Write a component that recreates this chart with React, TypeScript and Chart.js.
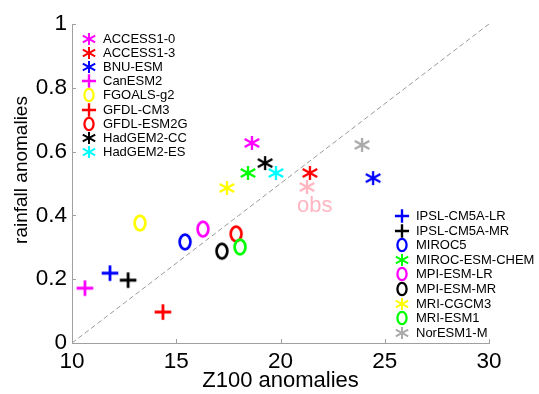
import React, { useEffect, useRef } from 'react';
import { Chart, registerables } from 'chart.js';

Chart.register(...registerables);

// ---- Data ----
const models = [
  'ACCESS1-0', 'ACCESS1-3', 'BNU-ESM', 'CanESM2', 'FGOALS-g2', 'GFDL-CM3', 'GFDL-ESM2G',
  'HadGEM2-CC', 'HadGEM2-ES', 'IPSL-CM5A-LR', 'IPSL-CM5A-MR', 'MIROC5', 'MIROC-ESM-CHEM',
  'MPI-ESM-LR', 'MPI-ESM-MR', 'MRI-CGCM3', 'MRI-ESM1', 'NorESM1-M',
];
const z100Anomalies = [
  18.63, 21.41, 24.44, 10.62, 13.26, 14.36, 17.87,
  19.26, 19.78, 11.82, 12.69, 15.42, 18.44,
  16.28, 17.19, 17.43, 18.06, 23.91,
];
const rainfallAnomalies = [
  0.627, 0.533, 0.517, 0.172, 0.376, 0.097, 0.342,
  0.564, 0.533, 0.219, 0.197, 0.317, 0.533,
  0.357, 0.288, 0.486, 0.301, 0.621,
];
const modelColors = [
  '#ff00ff', '#ff0000', '#0000ff', '#ff00ff', '#ffff00', '#ff0000', '#ff0000',
  '#000000', '#00ffff', '#0000ff', '#000000', '#0000ff', '#00ff00',
  '#ff00ff', '#000000', '#ffff00', '#00ff00', '#aaaaaa',
];
const modelMarkers = [
  'star', 'star', 'star', 'plus', 'circle', 'plus', 'circle',
  'star', 'star', 'plus', 'plus', 'circle', 'star',
  'circle', 'circle', 'star', 'circle', 'star',
];
const obsLabel = 'obs';
const obsZ100 = 21.27;
const obsRainfall = 0.489;
const obsColor = '#ffb6c1';
const refLineX = [10, 30];
const refLineY = [0, 1];
const leftLegendCount = 9;
const xAxisTitle = 'Z100 anomalies';
const yAxisTitle = 'rainfall anomalies';

const FONT = "'Liberation Sans', Arial, Helvetica, sans-serif";
const AXIS_GREY = '#a0a0a0';

function makeMarker(kind: string, color: string, scale = 1): HTMLCanvasElement {
  const size = 20;
  const c = document.createElement('canvas');
  c.width = size;
  c.height = size;
  const ctx = c.getContext('2d')!;
  ctx.translate(size / 2, size / 2);
  ctx.scale(scale, scale);
  ctx.strokeStyle = color;
  ctx.lineCap = 'butt';
  ctx.beginPath();
  if (kind === 'star') {
    ctx.lineWidth = 2.3;
    ctx.moveTo(0, -7);
    ctx.lineTo(0, 7);
    ctx.moveTo(-7.3, -4);
    ctx.lineTo(7.3, 4);
    ctx.moveTo(-7.3, 4);
    ctx.lineTo(7.3, -4);
  } else if (kind === 'plus') {
    ctx.lineWidth = 2.8;
    ctx.moveTo(-8.3, 0);
    ctx.lineTo(8.3, 0);
    ctx.moveTo(0, -7.8);
    ctx.lineTo(0, 7.8);
  } else {
    ctx.lineWidth = 2.7;
    ctx.ellipse(0, 0, 5.4, 7.3, 0, 0, Math.PI * 2);
  }
  ctx.stroke();
  return c;
}

export default function App() {
  const ref = useRef<HTMLCanvasElement | null>(null);

  useEffect(() => {
    document.body.style.margin = '0';
    const canvas = ref.current;
    if (!canvas) return;

    const plotMarkers = models.map((_, i) => makeMarker(modelMarkers[i], modelColors[i], 1));
    const legendMarkers = models.map((_, i) => makeMarker(modelMarkers[i], modelColors[i], 0.85));
    const obsMarker = makeMarker('star', obsColor, 1);

    const datasets: any[] = [
      {
        label: 'reference',
        type: 'line',
        data: refLineX.map((x, i) => ({ x, y: refLineY[i] })),
        borderColor: '#999999',
        borderWidth: 1,
        borderDash: [5, 3],
        pointRadius: 0,
        showLine: true,
        fill: false,
        order: 100,
      },
      ...models.map((m, i) => ({
        label: m,
        data: [{ x: z100Anomalies[i], y: rainfallAnomalies[i] }],
        pointStyle: plotMarkers[i],
        pointRadius: 8,
        showLine: false,
        order: models.length - i + 1,
      })),
      {
        label: obsLabel,
        data: [{ x: obsZ100, y: obsRainfall }],
        pointStyle: obsMarker,
        pointRadius: 8,
        showLine: false,
        order: 0,
      },
    ];

    const customPlugin = {
      id: 'customDecor',
      afterDraw(chart: any) {
        const ctx = chart.ctx;
        const xs = chart.scales.x;
        const ys = chart.scales.y;
        const area = chart.chartArea;
        ctx.save();
        // inward ticks
        ctx.strokeStyle = AXIS_GREY;
        ctx.lineWidth = 1;
        ctx.beginPath();
        xs.ticks.forEach((t: any) => {
          const px = Math.round(xs.getPixelForValue(t.value)) + 0.5;
          ctx.moveTo(px, area.bottom);
          ctx.lineTo(px, area.bottom - 4);
        });
        ys.ticks.forEach((t: any) => {
          const py = Math.round(ys.getPixelForValue(t.value)) + 0.5;
          ctx.moveTo(area.left, py);
          ctx.lineTo(area.left + 4, py);
        });
        ctx.stroke();

        // y-axis title
        ctx.save();
        ctx.translate(21.5, 170);
        ctx.rotate(-Math.PI / 2);
        ctx.fillStyle = '#000';
        ctx.font = `19px ${FONT}`;
        ctx.textAlign = 'center';
        ctx.textBaseline = 'middle';
        ctx.fillText(yAxisTitle, 0, 0);
        ctx.restore();

        // obs label
        const ox = xs.getPixelForValue(obsZ100);
        const oy = ys.getPixelForValue(obsRainfall);
        ctx.fillStyle = obsColor;
        ctx.font = `22px ${FONT}`;
        ctx.textAlign = 'left';
        ctx.textBaseline = 'alphabetic';
        ctx.fillText(obsLabel, ox - 10, oy + 25);

        // legends
        ctx.font = `13px ${FONT}`;
        ctx.fillStyle = '#000';
        ctx.textBaseline = 'middle';
        models.forEach((m, i) => {
          let mx, tx, ry;
          if (i < leftLegendCount) {
            mx = 89; tx = 103; ry = 39 + i * 14.1;
          } else {
            mx = 402; tx = 416; ry = 216 + (i - leftLegendCount) * 14.6;
          }
          const mk = legendMarkers[i];
          ctx.drawImage(mk, Math.round(mx - mk.width / 2), Math.round(ry - mk.height / 2));
          ctx.fillText(m, tx, ry + 0.5);
        });
        ctx.restore();
      },
    };

    const chart = new Chart(canvas, {
      type: 'scatter',
      data: { datasets },
      options: {
        animation: false,
        responsive: false,
        devicePixelRatio: 1,
        layout: { padding: { top: 24, right: 50, bottom: 0, left: 0 } },
        plugins: { legend: { display: false }, tooltip: { enabled: false } },
        scales: {
          x: {
            type: 'linear',
            min: 10,
            max: 30,
            afterFit: (s: any) => { s.height = 51; },
            ticks: { stepSize: 5, color: '#000', padding: 5, font: { family: FONT, size: 22.5 } },
            grid: { display: false, drawTicks: false },
            border: { display: true, color: AXIS_GREY, width: 1 },
            title: {
              display: true,
              text: xAxisTitle,
              color: '#000',
              padding: 0,
              font: { family: FONT, size: 22, lineHeight: 1.2 },
            },
          },
          y: {
            type: 'linear',
            min: 0,
            max: 1,
            afterFit: (s: any) => { s.width = 72; },
            ticks: {
              stepSize: 0.2,
              color: '#000',
              padding: 5,
              font: { family: FONT, size: 22.5 },
              callback: (v: any) => String(Number(Number(v).toFixed(1))),
            },
            grid: { display: false, drawTicks: false },
            border: { display: true, color: AXIS_GREY, width: 1 },
          },
        },
      },
      plugins: [customPlugin],
    } as any);

    return () => chart.destroy();
  }, []);

  return (
    <div style={{ width: 539, height: 394, background: '#fff' }}>
      <canvas ref={ref} width={539} height={394} style={{ display: 'block', width: 539, height: 394 }} />
    </div>
  );
}
